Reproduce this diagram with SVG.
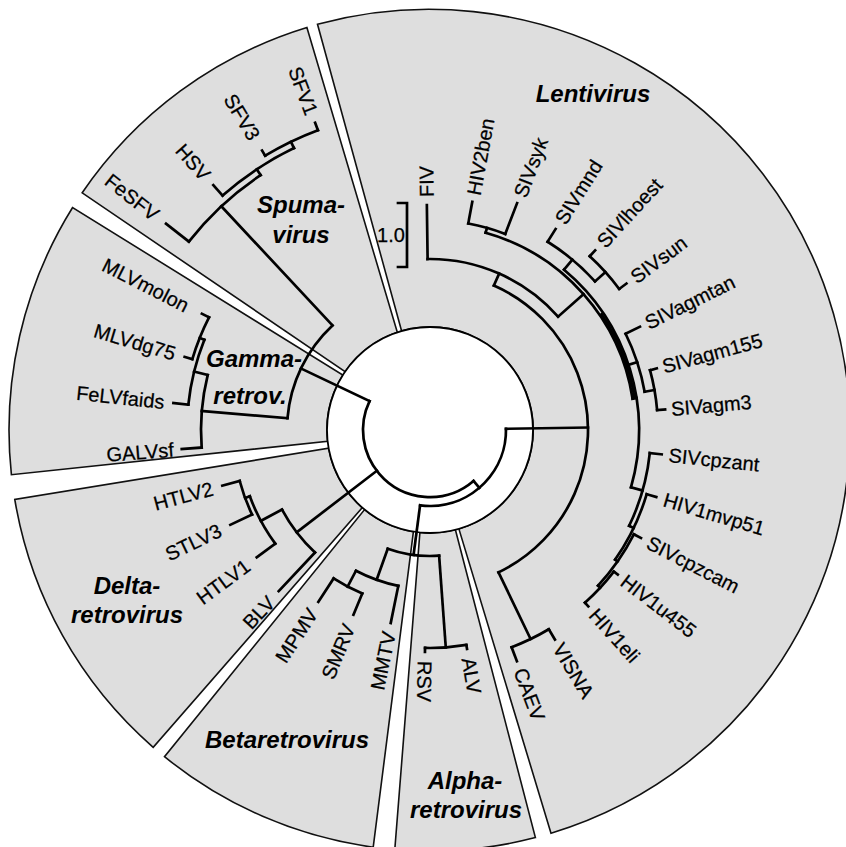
<svg xmlns="http://www.w3.org/2000/svg" width="846" height="847" viewBox="0 0 846 847">
<defs>
<style>
.sec{fill:#dedede;stroke:#111;stroke-width:1.6;stroke-linejoin:miter}
.t{fill:none;stroke:#000;stroke-width:2.7;stroke-linecap:square}
.a{fill:none;stroke:#000;stroke-width:2.7;stroke-linecap:square}
.lb{font-family:"Liberation Sans",Arial,sans-serif;font-size:20px;fill:#000;stroke:#000;stroke-width:0.25}
.gl{font-family:"Liberation Sans",Arial,sans-serif;font-size:24px;font-weight:bold;font-style:italic;fill:#000;text-anchor:middle}
</style>
</defs>
<rect width="846" height="847" fill="#fff"/>
<g id="sectors">
<path id="sec-lenti" class="sec" d="M 317.5 24.3 A 421 421 0 0 1 551.0 833.2 L 458.9 528.9 A 103 103 0 0 0 401.6 331.0 Z"/>
<path id="sec-alpha" class="sec" d="M 535.4 837.6 A 421 421 0 0 1 394.8 849.5 L 419.9 532.5 A 103 103 0 0 0 455.4 529.8 Z"/>
<path id="sec-beta" class="sec" d="M 373.2 847.2 A 421 421 0 0 1 164.5 756.7 L 364.6 509.6 A 103 103 0 0 0 413.4 531.7 Z"/>
<path id="sec-delta" class="sec" d="M 153.2 747.3 A 421 421 0 0 1 14.8 499.5 L 328.6 448.2 A 103 103 0 0 0 362.3 507.6 Z"/>
<path id="sec-gamma" class="sec" d="M 11.4 474.7 A 421 421 0 0 1 72.6 207.5 L 342.8 375.1 A 103 103 0 0 0 327.6 441.3 Z"/>
<path id="sec-spuma" class="sec" d="M 82.2 192.8 A 421 421 0 0 1 306.9 27.4 L 397.3 332.3 A 103 103 0 0 0 345.1 371.7 Z"/>
<circle cx="430" cy="430" r="103" fill="#fff" stroke="#000" stroke-width="1.8"/>
</g>
<g id="connectors" transform="translate(430 430)">
<!-- root -->
<circle class="a" r="67" pathLength="360" stroke-dasharray="156 400" transform="rotate(49.5)"/>
<line class="t" x1="67" x2="76" transform="rotate(49.5)"/>
<circle class="a" r="76" pathLength="360" stroke-dasharray="98.4 400" transform="rotate(-0.9)"/>
<line class="t" x1="67" x2="143" transform="rotate(205.5)"/>
<line class="t" x1="67" x2="168" transform="rotate(142.5)"/>
<!-- gamma + spuma -->
<circle class="a" r="143" pathLength="360" stroke-dasharray="42.25 400" transform="rotate(184.75)"/>
<line class="t" x1="143" x2="229" transform="rotate(184.75)"/>
<line class="t" x1="143" x2="306" transform="rotate(227)"/>
<circle class="a" r="229" pathLength="360" stroke-dasharray="18.3 400" transform="rotate(175.6)"/>
<line class="t" x1="229" x2="249" transform="rotate(175.6)"/>
<line class="t" x1="229" x2="243" transform="rotate(193.9)"/>
<circle class="a" r="243" pathLength="360" stroke-dasharray="15.8 400" transform="rotate(186)"/>
<line class="t" x1="243" x2="258" transform="rotate(186)"/>
<line class="t" x1="243" x2="248" transform="rotate(201.8)"/>
<circle class="a" r="248" pathLength="360" stroke-dasharray="10.4 400" transform="rotate(196.6)"/>
<line class="t" x1="248" x2="256" transform="rotate(196.6)"/>
<line class="t" x1="248" x2="256" transform="rotate(207)"/>
<circle class="a" r="306" pathLength="360" stroke-dasharray="18.4 400" transform="rotate(218)"/>
<line class="t" x1="306" x2="335" transform="rotate(218)"/>
<line class="t" x1="306" x2="313" transform="rotate(236.4)"/>
<circle class="a" r="313" pathLength="360" stroke-dasharray="15.75 400" transform="rotate(228.5)"/>
<line class="t" x1="313" x2="327" transform="rotate(228.5)"/>
<line class="t" x1="313" x2="320" transform="rotate(244.25)"/>
<circle class="a" r="320" pathLength="360" stroke-dasharray="10.5 400" transform="rotate(239)"/>
<line class="t" x1="320" x2="326" transform="rotate(239)"/>
<line class="t" x1="320" x2="328" transform="rotate(249.5)"/>
<!-- delta -->
<circle class="a" r="168" pathLength="360" stroke-dasharray="18.55 400" transform="rotate(133.2)"/>
<line class="t" x1="168" x2="221" transform="rotate(133.2)"/>
<line class="t" x1="168" x2="192" transform="rotate(151.75)"/>
<circle class="a" r="192" pathLength="360" stroke-dasharray="16.1 400" transform="rotate(143.7)"/>
<line class="t" x1="192" x2="215" transform="rotate(143.7)"/>
<line class="t" x1="192" x2="197" transform="rotate(159.8)"/>
<circle class="a" r="197" pathLength="360" stroke-dasharray="10.4 400" transform="rotate(154.6)"/>
<line class="t" x1="197" x2="221" transform="rotate(154.6)"/>
<line class="t" x1="197" x2="215" transform="rotate(165)"/>
<!-- beta + alpha -->
<line class="t" x1="76" x2="126" transform="rotate(97.5)"/>
<circle class="a" r="126" pathLength="360" stroke-dasharray="23.75 400" transform="rotate(85.85)"/>
<line class="t" x1="126" x2="218" transform="rotate(85.85)"/>
<circle class="a" r="218" pathLength="360" stroke-dasharray="10.9 400" transform="rotate(80.4)"/>
<line class="t" x1="218" x2="222" transform="rotate(80.4)"/>
<line class="t" x1="218" x2="222" transform="rotate(91.3)"/>
<line class="t" x1="126" x2="159" transform="rotate(109.6)"/>
<circle class="a" r="159" pathLength="360" stroke-dasharray="16.25 400" transform="rotate(101.5)"/>
<line class="t" x1="159" x2="197" transform="rotate(101.5)"/>
<line class="t" x1="159" x2="177" transform="rotate(117.75)"/>
<circle class="a" r="177" pathLength="360" stroke-dasharray="10.5 400" transform="rotate(112.5)"/>
<line class="t" x1="177" x2="200" transform="rotate(112.5)"/>
<line class="t" x1="177" x2="205" transform="rotate(123)"/>
<!-- lenti -->
<line class="t" x1="76" x2="158" transform="rotate(-0.9)"/>
<circle class="a" r="158" pathLength="360" stroke-dasharray="130.45 400" transform="rotate(-66.15)"/>
<line class="t" x1="158" x2="232" transform="rotate(64.3)"/>
<circle class="a" r="232" pathLength="360" stroke-dasharray="10.2 400" transform="rotate(59.2)"/>
<line class="t" x1="232" x2="244" transform="rotate(59.2)"/>
<line class="t" x1="232" x2="247" transform="rotate(69.4)"/>
<line class="t" x1="158" x2="171" transform="rotate(-66.15)"/>
<circle class="a" r="171" pathLength="360" stroke-dasharray="49.3 400" transform="rotate(-90.8)"/>
<line class="t" x1="171" x2="225" transform="rotate(-90.8)"/>
<line class="t" x1="171" x2="205" transform="rotate(-41.5)"/>
<circle class="a" r="205" pathLength="360" stroke-dasharray="65.45 400" transform="rotate(-74.25)"/>
<circle class="a" r="207" pathLength="360" stroke-dasharray="25 400" transform="rotate(-34)"/>
<line class="t" x1="205" x2="210" transform="rotate(-74.25)"/>
<circle class="a" r="210" pathLength="360" stroke-dasharray="10.5 400" transform="rotate(-79.5)"/>
<line class="t" x1="210" x2="232" transform="rotate(-79.5)"/>
<line class="t" x1="210" x2="243" transform="rotate(-69)"/>
<line class="t" x1="205" x2="209" transform="rotate(-8.8)"/>
<circle class="a" r="209" pathLength="360" stroke-dasharray="66 400" transform="rotate(-50.1)"/>
<line class="t" x1="209" x2="222" transform="rotate(-50.1)"/>
<circle class="a" r="222" pathLength="360" stroke-dasharray="16 400" transform="rotate(-58)"/>
<line class="t" x1="222" x2="237" transform="rotate(-58)"/>
<line class="t" x1="222" x2="236" transform="rotate(-42)"/>
<circle class="a" r="236" pathLength="360" stroke-dasharray="10.7 400" transform="rotate(-47.4)"/>
<line class="t" x1="236" x2="244" transform="rotate(-47.4)"/>
<line class="t" x1="236" x2="245" transform="rotate(-36.7)"/>
<line class="t" x1="209" x2="218" transform="rotate(-18.15)"/>
<circle class="a" r="218" pathLength="360" stroke-dasharray="16.1 400" transform="rotate(-26.2)"/>
<line class="t" x1="218" x2="234" transform="rotate(-26.2)"/>
<line class="t" x1="218" x2="228" transform="rotate(-10.1)"/>
<circle class="a" r="228" pathLength="360" stroke-dasharray="10.2 400" transform="rotate(-15.2)"/>
<line class="t" x1="228" x2="235" transform="rotate(-15.2)"/>
<line class="t" x1="228" x2="236" transform="rotate(-5)"/>
<line class="t" x1="209" x2="221" transform="rotate(15.9)"/>
<circle class="a" r="221" pathLength="360" stroke-dasharray="19.7 400" transform="rotate(6)"/>
<line class="t" x1="221" x2="233" transform="rotate(6)"/>
<line class="t" x1="221" x2="226" transform="rotate(25.7)"/>
<circle class="a" r="226" pathLength="360" stroke-dasharray="18.5 400" transform="rotate(16.5)"/>
<line class="t" x1="226" x2="236" transform="rotate(16.5)"/>
<line class="t" x1="226" x2="229" transform="rotate(35)"/>
<circle class="a" r="229" pathLength="360" stroke-dasharray="15.7 400" transform="rotate(27.1)"/>
<line class="t" x1="229" x2="237" transform="rotate(27.1)"/>
<line class="t" x1="229" x2="232" transform="rotate(42.8)"/>
<circle class="a" r="232" pathLength="360" stroke-dasharray="10.5 400" transform="rotate(37.6)"/>
<line class="t" x1="232" x2="237" transform="rotate(37.6)"/>
<line class="t" x1="232" x2="237" transform="rotate(48.1)"/>
</g>
<g id="leaves" transform="translate(430 430)">
<g id="leaf-FIV"><text class="lb" dy="0.35em" transform="rotate(-90.8) translate(233 0)">FIV</text></g>
<g id="leaf-HIV2ben"><text class="lb" dy="0.35em" transform="rotate(-79.5) translate(239 0)">HIV2ben</text></g>
<g id="leaf-SIVsyk"><text class="lb" dy="0.35em" transform="rotate(-69) translate(250 0)">SIVsyk</text></g>
<g id="leaf-SIVmnd"><text class="lb" dy="0.35em" transform="rotate(-58) translate(245 0)">SIVmnd</text></g>
<g id="leaf-SIVlhoest"><text class="lb" dy="0.35em" transform="rotate(-47.4) translate(252 0)">SIVlhoest</text></g>
<g id="leaf-SIVsun"><text class="lb" dy="0.35em" transform="rotate(-36.7) translate(253 0)">SIVsun</text></g>
<g id="leaf-SIVagmtan"><text class="lb" dy="0.35em" transform="rotate(-26.2) translate(241 0)">SIVagmtan</text></g>
<g id="leaf-SIVagm155"><text class="lb" dy="0.35em" transform="rotate(-15.2) translate(241 0)">SIVagm155</text></g>
<g id="leaf-SIVagm3"><text class="lb" dy="0.35em" transform="rotate(-5) translate(242 0)">SIVagm3</text></g>
<g id="leaf-SIVcpzant"><text class="lb" dy="0.35em" transform="rotate(6) translate(240 0)">SIVcpzant</text></g>
<g id="leaf-HIV1mvp51"><text class="lb" dy="0.35em" transform="rotate(16.5) translate(244 0)">HIV1mvp51</text></g>
<g id="leaf-SIVcpzcam"><text class="lb" dy="0.35em" transform="rotate(27.1) translate(245 0)">SIVcpzcam</text></g>
<g id="leaf-HIV1u455"><text class="lb" dy="0.35em" transform="rotate(37.6) translate(244 0)">HIV1u455</text></g>
<g id="leaf-HIV1eli"><text class="lb" dy="0.35em" transform="rotate(48.1) translate(244 0)">HIV1eli</text></g>
<g id="leaf-VISNA"><text class="lb" dy="0.35em" transform="rotate(59.2) translate(250 0)">VISNA</text></g>
<g id="leaf-CAEV"><text class="lb" dy="0.35em" transform="rotate(69.4) translate(255 0)">CAEV</text></g>
<g id="leaf-ALV"><text class="lb" dy="0.35em" transform="rotate(80.4) translate(231 0)">ALV</text></g>
<g id="leaf-RSV"><text class="lb" dy="0.35em" transform="rotate(91.3) translate(231 0)">RSV</text></g>
<g id="leaf-MMTV"><text class="lb" dy="0.35em" text-anchor="end" transform="rotate(101.5) translate(206 0) rotate(180)">MMTV</text></g>
<g id="leaf-SMRV"><text class="lb" dy="0.35em" text-anchor="end" transform="rotate(112.5) translate(211 0) rotate(180)">SMRV</text></g>
<g id="leaf-MPMV"><text class="lb" dy="0.35em" text-anchor="end" transform="rotate(123) translate(215 0) rotate(180)">MPMV</text></g>
<g id="leaf-BLV"><text class="lb" dy="0.35em" text-anchor="end" transform="rotate(133.2) translate(232 0) rotate(180)">BLV</text></g>
<g id="leaf-HTLV1"><text class="lb" dy="0.35em" text-anchor="end" transform="rotate(143.7) translate(226 0) rotate(180)">HTLV1</text></g>
<g id="leaf-STLV3"><text class="lb" dy="0.35em" text-anchor="end" transform="rotate(154.6) translate(232 0) rotate(180)">STLV3</text></g>
<g id="leaf-HTLV2"><text class="lb" dy="0.35em" text-anchor="end" transform="rotate(165) translate(225 0) rotate(180)">HTLV2</text></g>
<g id="leaf-GALVsf"><text class="lb" dy="0.35em" text-anchor="end" transform="rotate(175.6) translate(257 0) rotate(180)">GALVsf</text></g>
<g id="leaf-FeLVfaids"><text class="lb" dy="0.35em" text-anchor="end" transform="rotate(186) translate(267 0) rotate(180)">FeLVfaids</text></g>
<g id="leaf-MLVdg75"><text class="lb" dy="0.35em" text-anchor="end" transform="rotate(196.6) translate(266 0) rotate(180)">MLVdg75</text></g>
<g id="leaf-MLVmolon"><text class="lb" dy="0.35em" text-anchor="end" transform="rotate(207) translate(272 0) rotate(180)">MLVmolon</text></g>
<g id="leaf-FeSFV"><text class="lb" dy="0.35em" text-anchor="end" transform="rotate(218) translate(347 0) rotate(180)">FeSFV</text></g>
<g id="leaf-HSV"><text class="lb" dy="0.35em" text-anchor="end" transform="rotate(228.5) translate(337 0) rotate(180)">HSV</text></g>
<g id="leaf-SFV3"><text class="lb" dy="0.35em" text-anchor="end" transform="rotate(239) translate(340 0) rotate(180)">SFV3</text></g>
<g id="leaf-SFV1"><text class="lb" dy="0.35em" text-anchor="end" transform="rotate(249.5) translate(337 0) rotate(180)">SFV1</text></g>
</g>
<g id="groups">
<text class="gl" x="593" y="102">Lentivirus</text>
<text class="gl" x="301" y="213">Spuma-</text>
<text class="gl" x="301" y="243">virus</text>
<text class="gl" x="254" y="367">Gamma-</text>
<text class="gl" x="250" y="404">retrov.</text>
<text class="gl" x="127" y="594">Delta-</text>
<text class="gl" x="127" y="623">retrovirus</text>
<text class="gl" x="287" y="748">Betaretrovirus</text>
<text class="gl" x="465" y="789">Alpha-</text>
<text class="gl" x="466" y="818">retrovirus</text>
</g>
<g id="scale">
<polyline class="t" points="398,203 407,203 407,267 398,267" stroke-linecap="butt"/>
<text class="lb" x="391" y="242" text-anchor="middle" font-size="17">1.0</text>
</g>
</svg>
